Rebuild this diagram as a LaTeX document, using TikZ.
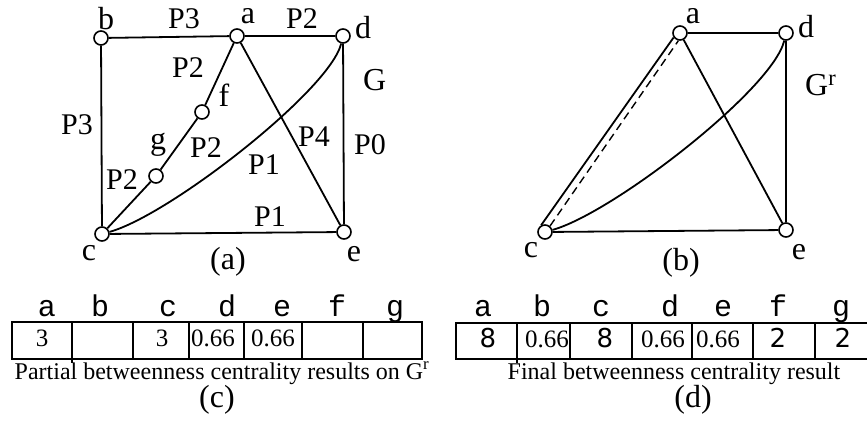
\documentclass[tikz,border=0pt]{standalone}
\usepackage{fontspec}
\setmainfont{Liberation Serif}
\setmonofont{Liberation Mono}
\setsansfont{DejaVu Sans}
\usetikzlibrary{positioning}
\tikzset{
  gedge/.style={line width=1.8pt},
  gvert/.style={circle, draw, fill=white, line width=1.6pt, minimum size=14pt, inner sep=0pt},
  glabel/.style={inner sep=0pt, font=\fontsize{32}{32}\selectfont},
}

\begin{document}
\begin{tikzpicture}[
  x=1pt, y=-1pt,
  plab/.style={glabel, font=\fontsize{30}{30}\selectfont},
  colhead/.style={inner sep=0pt, anchor=base, font=\fontsize{30}{30}\selectfont\ttfamily},
  cellval/.style={inner sep=0pt, anchor=base, font=\fontsize{25}{25}\selectfont},
  cellsans/.style={cellval, font=\fontsize{26}{26}\selectfont\sffamily},
  capt/.style={inner sep=0pt, anchor=base, font=\fontsize{24}{24}\selectfont},
  tabline/.style={line width=1.8pt},
]
  \useasboundingbox (0,0) rectangle (867,437);

  % (a) graph G
  \node[gvert] (a) at (237,36) {};
  \node[gvert] (b) at (101,38) {};
  \node[gvert] (c) at (102,234) {};
  \node[gvert] (d) at (343,36) {};
  \node[gvert] (e) at (344,232) {};
  \node[gvert] (f) at (202,112) {};
  \node[gvert] (g) at (156,176) {};
  \draw[gedge] (b) -- (a) -- (d) -- (e) -- (c) -- (b);
  \draw[gedge] (a) -- (f) -- (g) -- (c);
  \draw[gedge] (a) -- (e);
  \draw[gedge] (c) .. controls (170,215) and (330,90) .. (d);

  \node[glabel] (la) at (248,16) {a};
  \node[glabel] (lb) at (106,19) {b};
  \node[glabel] (lc) at (89,253) {c};
  \node[glabel] (ld) at (363,28) {d};
  \node[glabel] (le) at (354,254) {e};
  \node[glabel] (lf) at (224,95) {f};
  \node[glabel] (lg) at (158,145) {g};
  \node[glabel, anchor=base west] (lG) at (363,90) {G};
  \node[glabel] (capa) at (228,262) {(a)};

  \node[plab] (pba) at (184,19) {P3};
  \node[plab] (pad) at (302,19) {P2};
  \node[plab] (pbc) at (77,125) {P3};
  \node[plab] (paf) at (188,68) {P2};
  \node[plab] (pfg) at (206,148) {P2};
  \node[plab] (pgc) at (122,180) {P2};
  \node[plab] (pae) at (314,137) {P4};
  \node[plab] (pde) at (370,145) {P0};
  \node[plab] (pcd) at (264,165) {P1};
  \node[plab] (pce) at (270,217) {P1};

  % (b) reduced graph
  \node[gvert] (a2) at (680,33) {};
  \node[gvert] (d2) at (786,33) {};
  \node[gvert] (c2) at (545,232) {};
  \node[gvert] (e2) at (786,230) {};
  \draw[gedge] (c2.120) -- (a2.215);
  \draw[gedge] (a2) -- (d2) -- (e2) -- (c2);
  \draw[gedge] (a2) -- (e2);
  \draw[gedge] (c2) .. controls (613,213) and (773,89) .. (d2);
  \draw[line width=1.4pt, dash pattern=on 8pt off 5pt] (c2.50) -- (a2.258);

  \node[glabel] (la2) at (693,16) {a};
  \node[glabel] (ld2) at (806,27) {d};
  \node[glabel] (lc2) at (531,250) {c};
  \node[glabel] (le2) at (799,252) {e};
  \node[glabel, anchor=base west] (lG2) at (805,95) {G\textsuperscript{r}};
  \node[glabel] (capb) at (681,263) {(b)};

  % (c) partial results
  \draw[tabline] (12,322) rectangle (422,359);
  \foreach \x in {133,189,244,302,363}
    \draw[tabline] (\x,322) -- (\x,359);
  \draw[tabline] (72,322) -- (72,363);
  \foreach \x/\t in {47/a,100/b,168/c,227/d,282/e,337/f,395/g}
    \node[colhead] (hc\t) at (\x,316) {\t};
  \node[cellval] (vca) at (42,346) {3};
  \node[cellval] (vcc) at (162,346) {3};
  \node[cellval] (vcd) at (213,346) {0.66};
  \node[cellval] (vce) at (273,346) {0.66};
  \node[capt] (capc) at (222,379) {Partial betweenness centrality results on G\textsuperscript{r}};
  \node[glabel, anchor=base] (labc) at (217,407) {(c)};

  % (d) final results
  \draw[tabline] (867,323) -- (456,323) -- (456,359) -- (867,359);
  \foreach \x in {570,632,692,753,815}
    \draw[tabline] (\x,323) -- (\x,359);
  \draw[tabline] (517,323) -- (517,363);
  \foreach \x/\t in {483/a,542/b,601/c,670/d,723/e,778/f,841/g}
    \node[colhead] (hd\t) at (\x,316) {\t};
  \node[cellsans] (vda) at (488,347) {8};
  \node[cellval] (vdb) at (547,347) {0.66};
  \node[cellsans] (vdc) at (605,347) {8};
  \node[cellval] (vdd) at (663,347) {0.66};
  \node[cellval] (vde) at (718,347) {0.66};
  \node[cellsans] (vdf) at (778,347) {2};
  \node[cellsans] (vdg) at (843,347) {2};
  \node[capt] (capd) at (674,379) {Final betweenness centrality result};
  \node[glabel, anchor=base] (labd) at (693,407) {(d)};
\end{tikzpicture}
\end{document}
